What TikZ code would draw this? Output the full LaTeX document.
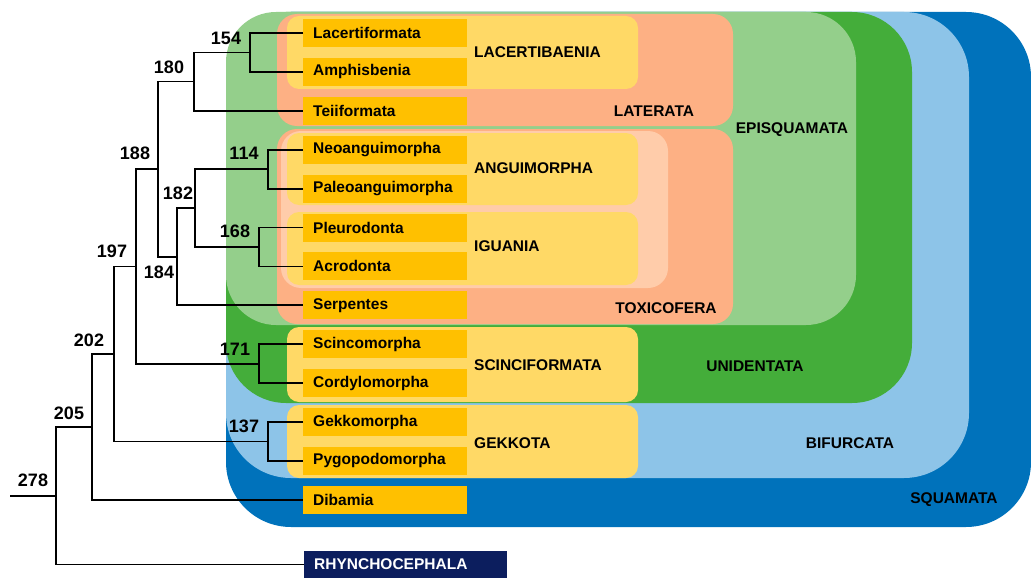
\documentclass[tikz,border=0pt]{standalone}
\usepackage{fontspec}
\setmainfont{Liberation Sans}
\definecolor{sqblue}{RGB}{0,114,187}
\definecolor{bifblue}{RGB}{141,196,232}
\definecolor{unigreen}{RGB}{68,173,58}
\definecolor{epigreen}{RGB}{148,207,139}
\definecolor{salmon}{RGB}{253,176,132}
\definecolor{peach}{RGB}{255,204,170}
\definecolor{cladeyellow}{RGB}{255,217,102}
\definecolor{taxonorange}{RGB}{255,192,0}
\definecolor{navy}{RGB}{12,30,94}
\begin{document}
\begin{tikzpicture}[x=1pt,y=-1pt,
  taxon/.style={anchor=west, fill=taxonorange, minimum height=28pt, text width=144pt,
    inner xsep=10pt, inner ysep=0pt, align=left, font=\fontsize{15.5}{18}\selectfont\bfseries},
  cladelabel/.style={font=\fontsize{15.5}{18}\selectfont\bfseries, inner sep=0pt},
  agelabel/.style={font=\fontsize{18}{20}\selectfont\bfseries, inner sep=0pt},
  branch/.style={draw=black, line width=1.8pt}]
\useasboundingbox (0,0) rectangle (1031,578);
\fill[white] (0,0) rectangle (1031,578);
% nested clade boxes
\fill[sqblue, rounded corners=65pt] (226,12) rectangle (1031,527);
\fill[bifblue, rounded corners=65pt] (226,12) rectangle (969,478);
\fill[unigreen, rounded corners=60pt] (226,12) rectangle (912,403);
\fill[epigreen, rounded corners=50pt] (226,12) rectangle (856,325);
\fill[salmon, rounded corners=20pt] (277,14) rectangle (733,126);
\fill[salmon, rounded corners=20pt] (277,129) rectangle (733,324);
\fill[peach, rounded corners=20pt] (281,131) rectangle (668,288);
\fill[cladeyellow, rounded corners=12pt] (287,16) rectangle (638,89);
\fill[cladeyellow, rounded corners=12pt] (287,133) rectangle (638,205);
\fill[cladeyellow, rounded corners=12pt] (287,212) rectangle (638,285);
\fill[cladeyellow, rounded corners=12pt] (287,327) rectangle (638,402);
\fill[cladeyellow, rounded corners=12pt] (287,405) rectangle (638,478);
% clade labels
\node[cladelabel, anchor=west] (lLacb) at (474,52) {LACERTIBAENIA};
\node[cladelabel, anchor=west] (lAngu) at (474,168) {ANGUIMORPHA};
\node[cladelabel, anchor=west] (lIgua) at (474,246) {IGUANIA};
\node[cladelabel, anchor=west] (lScin) at (474,365) {SCINCIFORMATA};
\node[cladelabel, anchor=west] (lGekk) at (474,443) {GEKKOTA};
\node[cladelabel] (lLate) at (654,111) {LATERATA};
\node[cladelabel] (lToxi) at (666,308) {TOXICOFERA};
\node[cladelabel] (lEpis) at (792,130) {EPISQUAMATA};
\node[cladelabel] (lUnid) at (755,366) {UNIDENTATA};
\node[cladelabel] (lBifu) at (850,443) {BIFURCATA};
\node[cladelabel] (lSqua) at (954,500) {SQUAMATA};
% taxa
\node[taxon] (lac) at (303,33.0) {Lacertiformata};
\node[taxon] (amp) at (303,71.9) {Amphisbenia};
\node[taxon] (tei) at (303,110.8) {Teiiformata};
\node[taxon] (neo) at (303,149.7) {Neoanguimorpha};
\node[taxon] (pal) at (303,188.6) {Paleoanguimorpha};
\node[taxon] (ple) at (303,227.5) {Pleurodonta};
\node[taxon] (acr) at (303,266.4) {Acrodonta};
\node[taxon] (ser) at (303,305.3) {Serpentes};
\node[taxon] (sci) at (303,344.2) {Scincomorpha};
\node[taxon] (cor) at (303,383.1) {Cordylomorpha};
\node[taxon] (gek) at (303,422.0) {Gekkomorpha};
\node[taxon] (pyg) at (303,460.9) {Pygopodomorpha};
\node[taxon] (dib) at (303,499.8) {Dibamia};
\node[taxon, fill=navy, text=white, text width=183pt, minimum height=27pt] (rhy) at (304,564.5) {RHYNCHOCEPHALA};
% internal nodes
\coordinate (n154) at (250,52.45);
\coordinate (n180) at (194,81.6);
\coordinate (n114) at (268,169.15);
\coordinate (n168) at (259,246.95);
\coordinate (n182) at (195,208.05);
\coordinate (n184) at (177,256.7);
\coordinate (n188) at (158,169.15);
\coordinate (n171) at (259,363.65);
\coordinate (n197) at (136,266.4);
\coordinate (n137) at (268,441.45);
\coordinate (n202) at (114,353.9);
\coordinate (n205) at (92,426.85);
\coordinate (n278) at (56,495.7);
\coordinate (root) at (10,495.7);
% branches
\draw[branch] (lac.west) -| (n154) |- (amp.west);
\draw[branch] (n154) -| (n180) |- (tei.west);
\draw[branch] (neo.west) -| (n114) |- (pal.west);
\draw[branch] (ple.west) -| (n168) |- (acr.west);
\draw[branch] (n114) -| (n182) |- (n168);
\draw[branch] (n182) -| (n184) |- (ser.west);
\draw[branch] (n180) -| (n188) |- (n184);
\draw[branch] (sci.west) -| (n171) |- (cor.west);
\draw[branch] (n188) -| (n197) |- (n171);
\draw[branch] (gek.west) -| (n137) |- (pyg.west);
\draw[branch] (n197) -| (n202) |- (n137);
\draw[branch] (n202) -| (n205) |- (dib.west);
\draw[branch] (n205) -| (n278) |- (rhy.west);
\draw[branch] (root) -- (n278);
% ages
\node[agelabel] (a154) at (226,38) {154};
\node[agelabel] (a180) at (169,67) {180};
\node[agelabel] (a188) at (135,153) {188};
\node[agelabel] (a114) at (244,153) {114};
\node[agelabel] (a182) at (178,193) {182};
\node[agelabel] (a168) at (235,231) {168};
\node[agelabel] (a197) at (112,251) {197};
\node[agelabel] (a184) at (159,272) {184};
\node[agelabel] (a202) at (89,340) {202};
\node[agelabel] (a171) at (235,349) {171};
\node[agelabel] (a205) at (69,413) {205};
\node[agelabel] (a137) at (244,426) {137};
\node[agelabel] (a278) at (33,480) {278};
\end{tikzpicture}
\end{document}
